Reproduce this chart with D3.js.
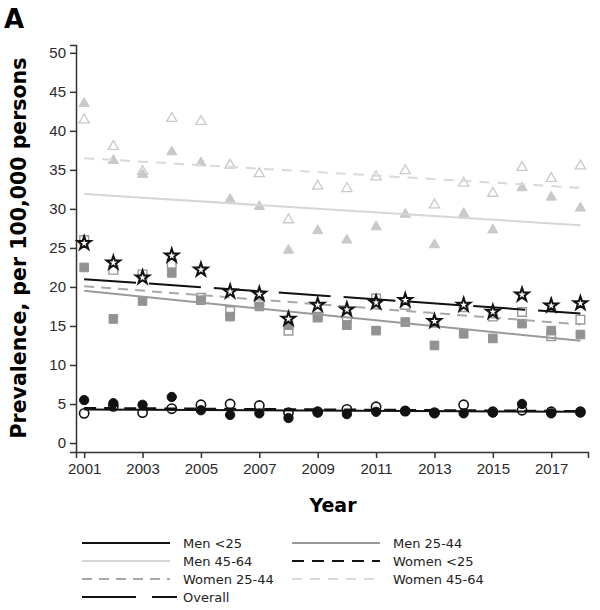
<!DOCTYPE html>
<html>
<head>
<meta charset="utf-8">
<script src="https://cdn.jsdelivr.net/npm/d3@7"></script>
<style>
  body { margin: 0; background: #fff; }
  svg { font-family: "DejaVu Sans", sans-serif; }
  .axis path, .axis line { stroke: #333; stroke-width: 1.5; }
  .axis text { font-size: 15px; fill: #2a2a2a; }
</style>
</head>
<body>
<script>
// Data
var years = [2001, 2002, 2003, 2004, 2005, 2006, 2007, 2008, 2009, 2010, 2011, 2012, 2013, 2014, 2015, 2016, 2017, 2018];
var xTickYears = [2001, 2003, 2005, 2007, 2009, 2011, 2013, 2015, 2017];
var yTicks = [0, 5, 10, 15, 20, 25, 30, 35, 40, 45, 50];

var seriesNames = ["Men <25", "Women <25", "Men 25-44", "Women 25-44", "Men 45-64", "Women 45-64", "Overall"];
var menUnder25 = [5.5, 5.1, 4.9, 5.9, 4.2, 3.6, 3.8, 3.2, 3.9, 3.7, 4.0, 4.1, 3.8, 3.8, 3.9, 5.0, 3.8, 3.9];
var womenUnder25 = [3.8, 4.7, 3.9, 4.4, 4.9, 5.0, 4.8, 3.9, 4.0, 4.3, 4.65, 4.1, 3.9, 4.9, 4.0, 4.2, 4.0, 4.0];
var men2544 = [22.5, 15.9, 18.2, 21.8, 18.3, 16.2, 17.5, 15.1, 16.2, 15.1, 14.4, 15.5, 12.5, 14.0, 13.4, 15.3, 14.4, 13.9];
var women2544 = [26.0, 22.2, 21.6, 23.0, 18.6, 16.9, 18.1, 14.4, 16.1, 16.2, 18.5, 17.7, 15.4, 17.4, 16.2, 16.8, 13.7, 15.8];
var men4564 = [43.5, 36.2, 34.4, 37.3, 35.9, 31.2, 30.3, 24.7, 27.2, 26.0, 27.7, 29.3, 25.4, 29.4, 27.3, 32.7, 31.5, 30.1];
var women4564 = [41.4, 38.0, 34.8, 41.6, 41.2, 35.6, 34.5, 28.6, 32.9, 32.6, 34.1, 34.9, 30.5, 33.3, 32.0, 35.3, 33.9, 35.5];
var overall = [25.6, 23.1, 21.2, 24.0, 22.2, 19.4, 19.1, 15.9, 17.7, 17.1, 18.0, 18.3, 15.6, 17.7, 16.8, 19.0, 17.6, 17.9];

// fitted trend lines, value at 2001 and at 2018 (same order as seriesNames)
var trendStart = [4.3, 4.5, 19.5, 20.1, 31.9, 36.5, 21.0];
var trendEnd = [4.0, 4.1, 13.1, 15.2, 27.9, 32.7, 16.6];

// Styles for each series (same order as seriesNames)
var lineColors = ["#111", "#111", "#9a9a9a", "#a8a8a8", "#d6d6d6", "#d9d9d9", "#111"];
var lineDash = [null, "12,8", null, "10,7", null, "10,8", "52,13"];
var markerColor = ["#111", "#111", "#929292", "#999", "#c9c9c9", "#c9c9c9", "#111"];

var seriesValues = [menUnder25, womenUnder25, men2544, women2544, men4564, women4564, overall];

var svg_Width = 600;
var svg_Height = 610;

var svg = d3.select("body")
  .append("svg")
  .attr("width", svg_Width)
  .attr("height", svg_Height);

// scales: axis line runs from x=76 to 588, y=452 to 45
var x = d3.scaleLinear().domain([2000.72, 2018.26]).range([76, 588]);
var y = d3.scaleLinear().domain([-1.15, 51]).range([452, 45]);

// axes
svg.append("g")
  .attr("class", "axis")
  .attr("transform", "translate(0,452)")
  .call(d3.axisBottom(x).tickValues(xTickYears).tickFormat(d3.format("d")).tickSizeOuter(0).tickSize(6).tickPadding(5));

svg.append("g")
  .attr("class", "axis")
  .attr("transform", "translate(76,0)")
  .call(d3.axisLeft(y).tickValues(yTicks).tickSizeOuter(0).tickSize(6).tickPadding(4));

// panel letter + axis titles
svg.append("text")
  .attr("x", 4).attr("y", 28)
  .style("font-size", "26px").style("font-weight", "bold")
  .text("A");

svg.append("text")
  .attr("x", 333).attr("y", 512)
  .attr("text-anchor", "middle")
  .style("font-size", "19px").style("font-weight", "bold")
  .text("Year");

svg.append("text")
  .attr("transform", "translate(26,248) rotate(-90)")
  .attr("text-anchor", "middle")
  .style("font-size", "20.5px").style("font-weight", "bold")
  .text("Prevalence, per 100,000 persons");

function pts(i) {
  return years.map(function(yr, j) { return { year: yr, value: seriesValues[i][j] }; });
}

// symbol marker drawing
function drawMarkers(i, type, size, filled, strokeW) {
  svg.append("g").selectAll("path")
    .data(pts(i))
    .enter()
    .append("path")
    .attr("transform", d => `translate(${x(d.year)},${y(d.value)})`)
    .attr("d", d3.symbol().type(type).size(size))
    .attr("fill", filled ? markerColor[i] : "#fff")
    .attr("stroke", markerColor[i])
    .attr("stroke-width", strokeW);
}

function drawTrend(i) {
  var seg = [{ year: years[0], value: trendStart[i] }, { year: years[years.length - 1], value: trendEnd[i] }];
  svg.append("path")
    .datum(seg)
    .attr("d", d3.line().x(d => x(d.year)).y(d => y(d.value)))
    .attr("fill", "none")
    .attr("stroke", lineColors[i])
    .attr("stroke-width", 2)
    .attr("stroke-dasharray", lineDash[i]);
}

// 45-64 triangles and their lines
drawMarkers(5, d3.symbolTriangle, 45, false, 1.3);
drawMarkers(4, d3.symbolTriangle, 45, true, 1);
drawTrend(4);
drawTrend(5);

// 25-44 squares
drawMarkers(3, d3.symbolSquare, 75, false, 1.4);
drawMarkers(2, d3.symbolSquare, 75, true, 1);
drawTrend(2);
drawTrend(3);

// <25 circles
drawMarkers(1, d3.symbolCircle, 68, false, 1.6);
drawMarkers(0, d3.symbolCircle, 68, true, 1);
drawTrend(0);
drawTrend(1);

// overall stars on top
drawTrend(6);
drawMarkers(6, d3.symbolStar, 55, false, 2);

// legend, two columns
var legendRows = [
  { i: 0, col: 0, row: 0 }, { i: 2, col: 1, row: 0 },
  { i: 4, col: 0, row: 1 }, { i: 1, col: 1, row: 1 },
  { i: 3, col: 0, row: 2 }, { i: 5, col: 1, row: 2 },
  { i: 6, col: 0, row: 3 }
];

var legend = svg.append("g").selectAll("g")
  .data(legendRows)
  .enter()
  .append("g")
  .attr("transform", d => `translate(${82 + d.col * 210},${543 + d.row * 18})`);

legend.append("line")
  .attr("x1", 0).attr("x2", d => d.i == 6 ? 95 : 88)
  .attr("y1", 0).attr("y2", 0)
  .attr("stroke", d => lineColors[d.i])
  .attr("stroke-width", 2)
  .attr("stroke-dasharray", d => d.i == 6 ? "54,16" : lineDash[d.i]);

legend.append("text")
  .attr("x", 101).attr("y", 5)
  .style("font-size", "13px").style("fill", "#222")
  .text(d => seriesNames[d.i]);
</script>
</body>
</html>
